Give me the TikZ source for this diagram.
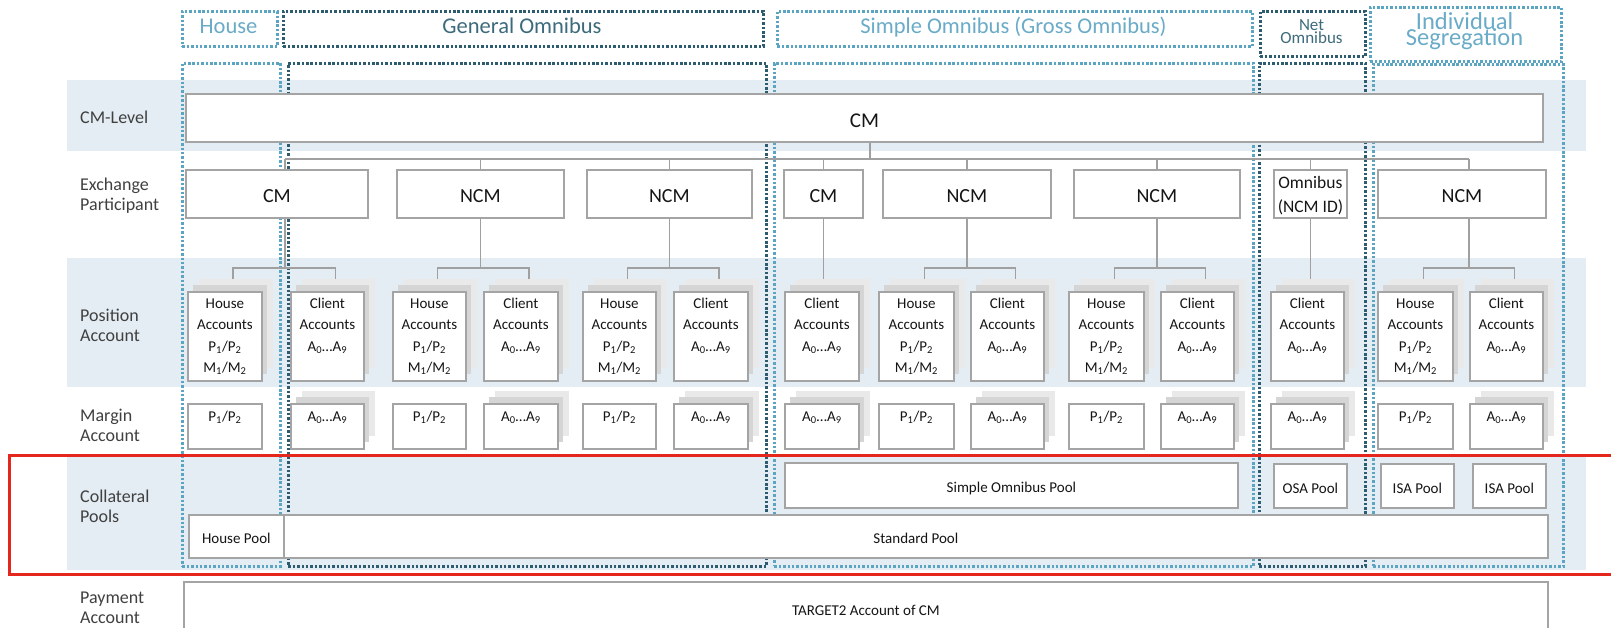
\documentclass[tikz,border=0pt]{standalone}
\usepackage{fontspec}
\setmainfont{Carlito}
\usetikzlibrary{calc}
\definecolor{bandc}{HTML}{E4EDF3}
\definecolor{boxgray}{HTML}{A4A4A4}
\definecolor{conngray}{HTML}{A0A0A0}
\definecolor{lblue}{HTML}{5BA5C3}
\definecolor{dblue}{HTML}{2D5B6F}
\definecolor{lbluetxt}{HTML}{6AABC8}
\definecolor{dbluetxt}{HTML}{3D6B7C}
\definecolor{lbltxt}{HTML}{404040}
\definecolor{boxtxtc}{HTML}{151515}
\definecolor{shA}{HTML}{E9E9E9}
\definecolor{shB}{HTML}{D5D5D5}
\definecolor{redframe}{HTML}{E5261C}

\tikzset{
  box/.style={draw=boxgray, line width=1.8pt, fill=white, inner sep=0pt, text=boxtxtc},
  hdrL/.style={draw=lblue, line width=2.7pt, dash pattern=on 2.5pt off 1.9pt, inner sep=0pt},
  hdrD/.style={draw=dblue, line width=2.7pt, dash pattern=on 2.5pt off 1.9pt, inner sep=0pt},
  conn/.style={draw=conngray, line width=1.5pt},
  rowlbl/.style={anchor=north west, align=left, inner sep=0pt, text=lbltxt, font=\fontsize{18}{20.5}\selectfont},
  htxt/.style={anchor=north, align=center, inner sep=0pt},
  btxt/.style={anchor=north, align=center, inner sep=0pt, text=boxtxtc, font=\fontsize{15}{21.5}\selectfont},
  eptxt/.style={font=\fontsize{20}{24}\selectfont, text height=18pt, text depth=0pt},
  pooltxt/.style={font=\fontsize{15}{18}\selectfont, text height=15pt, text depth=0pt},
}

% [style]{name}{x1}{y1}{x2}{y2}{text}
\newcommand\BX[7][box]{\node[#1, minimum width={(#5-#3)*1pt}, minimum height={(#6-#4)*1pt}, anchor=north west] (#2) at (#3,#4) {#7};}
% position account with stack
\newcommand\PB[4]{%
  \fill[shA] (#2+12,279) rectangle (#3+12,368);
  \fill[shB] (#2+6,285) rectangle (#3+6,374);
  \BX{#1}{#2}{291}{#3}{380}{}
  \node[btxt] (#1t) at ($(#1.north)+(0,6)$) {\rule{0pt}{11pt}#4};}
% margin account
\newcommand\MB[4]{%
  \BX{#1}{#2}{403}{#3}{448}{}
  \node[btxt] (#1t) at ($(#1.north)+(0,7)$) {\rule{0pt}{11pt}#4};}
\newcommand\MBS[4]{%
  \fill[shA] (#2+12,391) rectangle (#3+12,436);
  \fill[shB] (#2+6,397) rectangle (#3+6,442);
  \MB{#1}{#2}{#3}{#4}}
\newcommand\txtHA{House\\Accounts\\P\textsubscript{1}/P\textsubscript{2}\\M\textsubscript{1}/M\textsubscript{2}}
\newcommand\txtCA{Client\\Accounts\\A\textsubscript{0}…A\textsubscript{9}}
\newcommand\txtPP{P\textsubscript{1}/P\textsubscript{2}}
\newcommand\txtAA{A\textsubscript{0}…A\textsubscript{9}}

\begin{document}
\begin{tikzpicture}[x=1pt,y=-1pt]
\useasboundingbox (0,0) rectangle (1611,628);
\clip (0,0) rectangle (1611,628);
\fill[white] (0,0) rectangle (1611,628);
% bands
\fill[bandc] (67,80) rectangle (1586,151);
\fill[bandc] (67,258) rectangle (1586,387);
\fill[bandc] (67,457) rectangle (1586,570);
% header boxes
\BX[hdrL]{hHouse}{181}{10}{276}{45}{}
\BX[hdrD]{hGen}{282}{10}{762}{45}{}
\BX[hdrL]{hSim}{776}{10}{1251}{45}{}
\BX[hdrD]{hNet}{1259}{10}{1364}{55}{}
\BX[hdrL]{hInd}{1369}{6}{1560}{60}{}
\node[htxt,text=lbluetxt,font=\fontsize{22.5}{24}\selectfont] (tHouse) at (228.5,16) {\rule{0pt}{17pt}House};
\node[htxt,text=dbluetxt,font=\fontsize{22.5}{24}\selectfont] (tGen) at (522,16) {\rule{0pt}{17pt}General Omnibus};
\node[htxt,text=lbluetxt,font=\fontsize{22.5}{24}\selectfont] (tSim) at (1013.5,16) {\rule{0pt}{17pt}Simple Omnibus (Gross Omnibus)};
\node[htxt,text=dbluetxt,font={\fontsize{17}{13}\selectfont\lineskiplimit=-20pt}] (tNet) at (1311.5,18) {\rule{0pt}{12pt}Net\\Omnibus};
\node[htxt,text=lbluetxt,font={\fontsize{24.5}{16}\selectfont\lineskiplimit=-20pt}] (tInd) at (1464.5,11) {\rule{0pt}{18pt}Individual\\Segregation};
% columns
\BX[hdrL]{cHouse}{181}{62}{279}{565}{}
\BX[hdrD]{cGen}{287}{62}{765}{565}{}
\BX[hdrL]{cSim}{773}{62}{1252}{565}{}
\BX[hdrD]{cNet}{1258}{62}{1364}{565}{}
\BX[hdrL]{cInd}{1372}{63}{1562}{565}{}
% row labels
\node[rowlbl] (lCM) at (80,109) {\rule{0pt}{14pt}CM-Level};
\node[rowlbl] (lEx) at (80,176) {\rule{0pt}{14pt}Exchange\\Participant};
\node[rowlbl] (lPos) at (80,307) {\rule{0pt}{14pt}Position\\Account};
\node[rowlbl] (lMar) at (80,407) {\rule{0pt}{14pt}Margin\\Account};
\node[rowlbl] (lCol) at (80,488) {\rule{0pt}{14pt}Collateral\\Pools};
\node[rowlbl] (lPay) at (80,589) {\rule{0pt}{14pt}Payment\\Account};
% CM level
\BX[box,font=\fontsize{21}{24}\selectfont,text height=20pt,text depth=0pt]{cmtop}{185}{93}{1542}{141}{CM}
% exchange participants
\BX[box,eptxt]{e1}{185}{169}{367}{217}{CM}
\BX[box,eptxt]{e2}{396}{169}{563}{217}{NCM}
\BX[box,eptxt]{e3}{586}{169}{751}{217}{NCM}
\BX[box,eptxt]{e4}{783}{169}{862}{217}{CM}
\BX[box,eptxt]{e5}{882}{169}{1050}{217}{NCM}
\BX[box,eptxt]{e6}{1073}{169}{1239}{217}{NCM}
\BX{e7}{1273}{169}{1346}{217}{}
\node[htxt,text=boxtxtc,font=\fontsize{17.5}{24}\selectfont] (e7t) at ($(e7.north)+(0,6)$) {\rule{0pt}{13pt}Omnibus\\(NCM ID)};
\BX[box,eptxt]{e8}{1377}{169}{1545}{217}{NCM}
% upper tree
\coordinate (busM) at (870,159);
\coordinate (busL) at (285,159);
\coordinate (busR) at (1469,159);
\coordinate (b2) at (0,268);
\coordinate (shy) at (0,279);
\draw[conn] (cmtop.south -| busM) -- (busM);
\draw[conn] (busL) -- (busR);
\draw[conn] (busL) -- (busL |- e1.north);
\foreach \e in {e2,e3,e4,e5,e6,e7} {\draw[conn] (\e.north |- busL) -- (\e.north);}
\draw[conn] (busR) -- (busR |- e8.north);
% position accounts
\PB{p1}{187}{261}{\txtHA}
\PB{p2}{290}{363}{\txtCA}
\PB{p3}{392}{465}{\txtHA}
\PB{p4}{483}{557}{\txtCA}
\PB{p5}{582}{655}{\txtHA}
\PB{p6}{673}{747}{\txtCA}
\PB{p7}{784}{858}{\txtCA}
\PB{p8}{878}{953}{\txtHA}
\PB{p9}{970}{1043}{\txtCA}
\PB{p10}{1068}{1143}{\txtHA}
\PB{p11}{1160}{1233}{\txtCA}
\PB{p12}{1270}{1343}{\txtCA}
\PB{p13}{1377}{1452}{\txtHA}
\PB{p14}{1469}{1542}{\txtCA}
% lower tree
\draw[conn] (busL |- e1.south) -- (busL |- b2);
\draw[conn] (e2.south) -- (e2.south |- b2);
\draw[conn] (e3.south) -- (e3.south |- b2);
\draw[conn] (e4.south) -- (e4.south |- shy);
\draw[conn] (e5.south) -- (e5.south |- b2);
\draw[conn] (e6.south) -- (e6.south |- b2);
\draw[conn] (e7.south) -- (e7.south |- shy);
\draw[conn] (busR |- e8.south) -- (busR |- b2);
\foreach \h/\c in {p1/p2,p3/p4,p5/p6,p8/p9,p10/p11,p13/p14}
  {\draw[conn] ($(\h.north)+(8,-12)$) -- ++(0,-11) -| ($(\c.north)+(8,-12)$);}
% margin accounts
\MB{m1}{187}{261}{\txtPP}
\MBS{m2}{290}{363}{\txtAA}
\MB{m3}{392}{465}{\txtPP}
\MBS{m4}{483}{557}{\txtAA}
\MB{m5}{582}{655}{\txtPP}
\MBS{m6}{673}{747}{\txtAA}
\MBS{m7}{784}{858}{\txtAA}
\MB{m8}{878}{953}{\txtPP}
\MBS{m9}{970}{1043}{\txtAA}
\MB{m10}{1068}{1143}{\txtPP}
\MBS{m11}{1160}{1233}{\txtAA}
\MBS{m12}{1270}{1343}{\txtAA}
\MB{m13}{1377}{1452}{\txtPP}
\MBS{m14}{1469}{1542}{\txtAA}
% collateral pools
\BX[box,pooltxt]{hpool}{188}{514}{283}{557}{House Pool}
\BX[box,pooltxt]{spool}{283}{514}{1547}{557}{Standard Pool}
\BX[box,pooltxt]{sopool}{784}{462}{1237}{507}{Simple Omnibus Pool}
\BX[box,pooltxt]{osa}{1273}{463}{1346}{507}{OSA Pool}
\BX[box,pooltxt]{isa1}{1380}{463}{1453}{507}{ISA Pool}
\BX[box,pooltxt]{isa2}{1472}{463}{1545}{507}{ISA Pool}
% payment account
\BX[box,pooltxt]{t2}{183}{581}{1547}{633}{TARGET2 Account of CM}
% red frame
\draw[redframe, line width=3pt] (9,455) rectangle (1630,574);
\end{tikzpicture}
\end{document}
